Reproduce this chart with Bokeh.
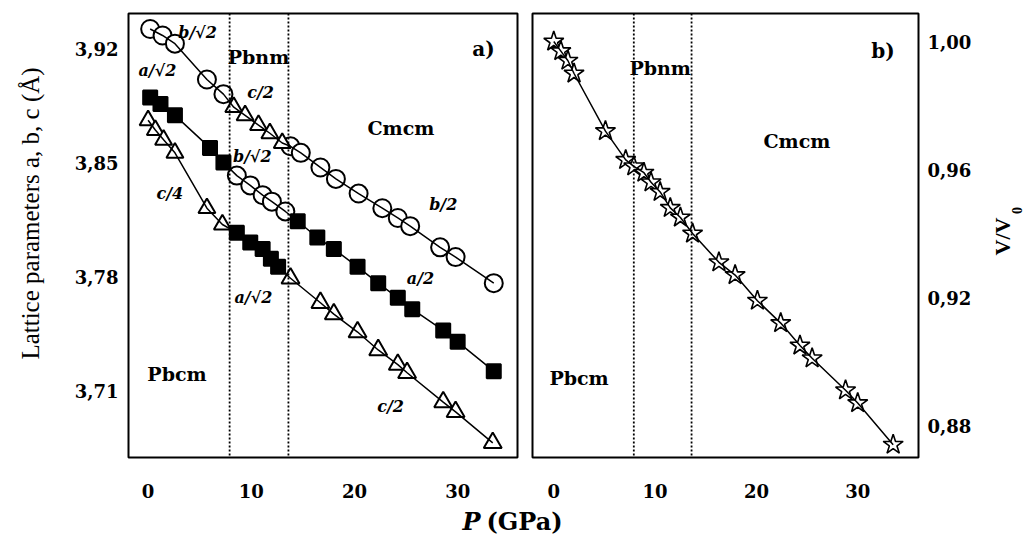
import math
from bokeh.plotting import figure
from bokeh.layouts import row, column
from bokeh.models import Span, FixedTicker, CustomJSTickFormatter, Range1d
from bokeh.embed import file_html
from bokeh.resources import INLINE
from bokeh.core.properties import value

# ---------------- data: panel a (lattice parameters, Angstrom) ----------------
# upper track: b/sqrt2 (Pbcm, circles), c/2 (Pbnm, triangles), b/2 (Cmcm, circles)
circ_pbcm_P = [0.2, 1.4, 2.6, 5.7, 7.3]
circ_pbcm_v = [3.932, 3.928, 3.923, 3.901, 3.892]
tri_pbnm_P = [8.3, 9.4, 10.7, 11.8, 13.0]
tri_pbnm_v = [3.884, 3.879, 3.873, 3.868, 3.862]
circ_cmcm_P = [13.8, 14.8, 16.7, 18.2, 20.4, 22.7, 24.2, 25.4, 28.3, 29.8, 33.5]
circ_cmcm_v = [3.860, 3.856, 3.847, 3.840, 3.831, 3.822, 3.816, 3.811, 3.798, 3.792, 3.776]
# middle track: a/sqrt2 (Pbcm, squares), b/sqrt2 (Pbnm, circles), a/2 (Cmcm, squares)
sq_pbcm_P = [0.2, 1.2, 2.6, 6.0, 7.3]
sq_pbcm_v = [3.890, 3.886, 3.879, 3.859, 3.850]
circ_pbnm_P = [8.6, 9.9, 11.1, 12.0, 13.3]
circ_pbnm_v = [3.842, 3.836, 3.830, 3.826, 3.820]
sq_cmcm_P = [14.5, 16.4, 18.0, 20.3, 22.3, 24.2, 25.6, 28.6, 30.0, 33.5]
sq_cmcm_v = [3.814, 3.804, 3.797, 3.786, 3.776, 3.767, 3.760, 3.747, 3.740, 3.722]
# lower track: c/4 (Pbcm, triangles), a/sqrt2 (Pbnm, squares), c/2 (Cmcm, triangles)
tri_pbcm_P = [0.0, 0.7, 1.5, 2.6, 5.7, 7.2]
tri_pbcm_v = [3.876, 3.870, 3.864, 3.856, 3.822, 3.812]
sq_pbnm_P = [8.6, 9.9, 11.1, 11.9, 12.6]
sq_pbnm_v = [3.807, 3.801, 3.797, 3.791, 3.786]
tri_cmcm_P = [13.8, 16.7, 18.0, 20.3, 22.3, 24.2, 25.1, 28.6, 29.8, 33.4]
tri_cmcm_v = [3.779, 3.764, 3.757, 3.746, 3.735, 3.726, 3.721, 3.703, 3.697, 3.678]

# ---------------- data: panel b (V/V0) ----------------
star_P = [0.0, 0.7, 1.4, 2.0, 5.1, 7.1, 7.9, 8.9, 9.6, 10.5, 11.5, 12.5, 13.7,
          16.3, 17.9, 20.1, 22.4, 24.3, 25.5, 28.8, 30.0, 33.5]
star_v = [1.000, 0.997, 0.994, 0.990, 0.972, 0.963, 0.961, 0.959, 0.956, 0.953, 0.948,
          0.945, 0.940, 0.931, 0.927, 0.919, 0.912, 0.905, 0.901, 0.891, 0.887, 0.874]

# ---------------- ticks, transitions, annotations ----------------
p_ticks = [0, 10, 20, 30]
lat_ticks = [3.71, 3.78, 3.85, 3.92]
vol_ticks = [0.88, 0.92, 0.96, 1.00]
transitions = [7.9, 13.6]

phase_names = ["Pbnm", "Cmcm", "Pbcm"]
phase_a_P = [10.7, 24.5, 2.8]
phase_a_v = [3.9145, 3.871, 3.720]
phase_b_P = [10.5, 24.0, 2.5]
phase_b_v = [0.9916, 0.9688, 0.8947]

ratio_text = ["b/√2", "a/√2", "c/2", "b/√2", "c/4", "b/2", "a/2", "a/√2", "c/2"]
ratio_P = [4.8, 0.9, 10.9, 10.1, 2.1, 28.6, 26.4, 10.2, 23.5]
ratio_v = [3.930, 3.9065, 3.893, 3.854, 3.831, 3.824, 3.779, 3.767, 3.700]

SERIF = value("DejaVu Serif")
comma_fmt = CustomJSTickFormatter(code="return tick.toFixed(2).replace('.', ',');")

H = 508          # height of the plot row
TOP, BOT = 13, 51  # shared vertical borders (rows align them)


def style_axes(p):
    p.xgrid.visible = False
    p.ygrid.visible = False
    p.outline_line_color = "black"
    p.outline_line_width = 2
    p.outline_line_alpha = 1
    p.background_fill_color = "white"
    p.border_fill_color = "white"
    for ax in p.axis:
        ax.axis_line_color = None
        ax.major_tick_line_color = None
        ax.minor_tick_line_color = None
        ax.major_tick_in = 0
        ax.major_tick_out = 0
        ax.minor_tick_in = 0
        ax.minor_tick_out = 0
        ax.major_label_text_font = "DejaVu Serif"
        ax.major_label_text_font_style = "bold"
        ax.major_label_text_font_size = "18px"
        ax.major_label_text_color = "black"
    for t in transitions:
        p.add_layout(Span(location=t, dimension="height", line_color="black",
                          line_width=1.8, line_dash="2 2"))


def markers(p, xs, ys, kind, size):
    fill = "black" if kind == "square" else "white"
    p.scatter(xs, ys, marker=kind, size=size, fill_color=fill,
              line_color="black", line_width=2)


# ---------------- panel a ----------------
pa = figure(width=475, height=H, x_range=Range1d(-1.9, 35.8), y_range=Range1d(3.669, 3.9415),
            output_backend="svg", toolbar_location=None,
            min_border_left=78, min_border_right=8, min_border_top=TOP, min_border_bottom=BOT)
style_axes(pa)
pa.xaxis.ticker = FixedTicker(ticks=p_ticks)
pa.yaxis.ticker = FixedTicker(ticks=lat_ticks)
pa.yaxis.formatter = comma_fmt
pa.xaxis.major_label_standoff = 26
pa.yaxis.major_label_standoff = 10

markers(pa, circ_pbcm_P, circ_pbcm_v, "circle", 18)
markers(pa, circ_cmcm_P, circ_cmcm_v, "circle", 18)
markers(pa, circ_pbnm_P, circ_pbnm_v, "circle", 18)
markers(pa, tri_pbnm_P, tri_pbnm_v, "triangle", 17)
markers(pa, tri_pbcm_P, tri_pbcm_v, "triangle", 17)
markers(pa, tri_cmcm_P, tri_cmcm_v, "triangle", 18)
markers(pa, sq_pbcm_P, sq_pbcm_v, "square", 14)
markers(pa, sq_pbnm_P, sq_pbnm_v, "square", 14)
markers(pa, sq_cmcm_P, sq_cmcm_v, "square", 14)

track1_P = circ_pbcm_P + tri_pbnm_P + circ_cmcm_P
track1_v = circ_pbcm_v + tri_pbnm_v + circ_cmcm_v
track2_P = sq_pbcm_P + circ_pbnm_P + sq_cmcm_P
track2_v = sq_pbcm_v + circ_pbnm_v + sq_cmcm_v
track3_P = tri_pbcm_P + sq_pbnm_P + tri_cmcm_P
track3_v = tri_pbcm_v + sq_pbnm_v + tri_cmcm_v
for xs, ys in [(track1_P, track1_v), (track2_P, track2_v), (track3_P, track3_v)]:
    pa.line(xs, ys, line_color="black", line_width=1.5)

pa.text(x=phase_a_P, y=phase_a_v, text=phase_names, text_font=SERIF, text_font_style="bold",
        text_font_size="19px", text_align="center", text_baseline="middle", text_color="black")
pa.text(x=ratio_P, y=ratio_v, text=ratio_text, text_font=SERIF, text_font_style="bold italic",
        text_font_size="16px", text_align="center", text_baseline="middle", text_color="black")
pa.text(x=[32.5], y=[3.920], text=["a)"], text_font=SERIF, text_font_style="bold",
        text_font_size="20px", text_align="center", text_baseline="middle", text_color="black")

# ---------------- panel b ----------------
pb = figure(width=460, height=H, x_range=Range1d(-2.1, 36.0), y_range=Range1d(0.870, 1.00875),
            output_backend="svg", toolbar_location=None, y_axis_location="right",
            min_border_left=7, min_border_right=67, min_border_top=TOP, min_border_bottom=BOT)
style_axes(pb)
pb.xaxis.ticker = FixedTicker(ticks=p_ticks)
pb.yaxis.ticker = FixedTicker(ticks=vol_ticks)
pb.yaxis.formatter = comma_fmt
pb.xaxis.major_label_standoff = 26
pb.yaxis.major_label_standoff = 9

pb.scatter(star_P, star_v, marker="star", size=21, fill_color="white",
           line_color="black", line_width=1.6)
pb.line(star_P, star_v, line_color="black", line_width=1.5)
pb.text(x=phase_b_P, y=phase_b_v, text=phase_names, text_font=SERIF, text_font_style="bold",
        text_font_size="19px", text_align="center", text_baseline="middle", text_color="black")
pb.text(x=[32.5], y=[0.9969], text=["b)"], text_font=SERIF, text_font_style="bold",
        text_font_size="20px", text_align="center", text_baseline="middle", text_color="black")


# ---------------- label strips (y in pixels from the bottom of the row) ----------------
def strip(w, h, top=0, bot=0):
    s = figure(width=w, height=h, x_range=Range1d(0, w), y_range=Range1d(bot, h - top),
               output_backend="svg", toolbar_location=None,
               x_axis_location=None, y_axis_location=None,
               min_border_left=0, min_border_right=0, min_border_top=top, min_border_bottom=bot)
    s.xgrid.visible = False
    s.ygrid.visible = False
    s.outline_line_color = None
    s.background_fill_color = "white"
    s.border_fill_color = "white"
    return s


pl = strip(50, H, TOP, BOT)
pl.text(x=[30], y=[H - 213], text=["Lattice parameters a, b, c (Å)"], angle=math.pi / 2,
        text_font=value("Liberation Serif"), text_font_size="25px",
        text_align="center", text_baseline="middle", text_color="black")

pr = strip(42, H, TOP, BOT)
pr.text(x=[17], y=[H - 236], text=["V/V"], angle=math.pi / 2,
        text_font=value("Liberation Serif"), text_font_style="bold", text_font_size="22px",
        text_align="center", text_baseline="middle", text_color="black")
pr.text(x=[31], y=[H - 210], text=["0"], angle=math.pi / 2,
        text_font=value("Liberation Serif"), text_font_style="bold", text_font_size="14px",
        text_align="center", text_baseline="middle", text_color="black")

pbot = strip(1027, 31)
pbot.text(x=[480], y=[18], text=["P"], text_font=SERIF, text_font_style="bold italic",
          text_font_size="24px", text_align="right", text_baseline="middle", text_color="black")
pbot.text(x=[486], y=[18], text=["(GPa)"], text_font=SERIF, text_font_style="bold",
          text_font_size="24px", text_align="left", text_baseline="middle", text_color="black")

layout = column(row(pl, pa, pb, pr), pbot)
open("out.html", "w").write(file_html(layout, INLINE))
